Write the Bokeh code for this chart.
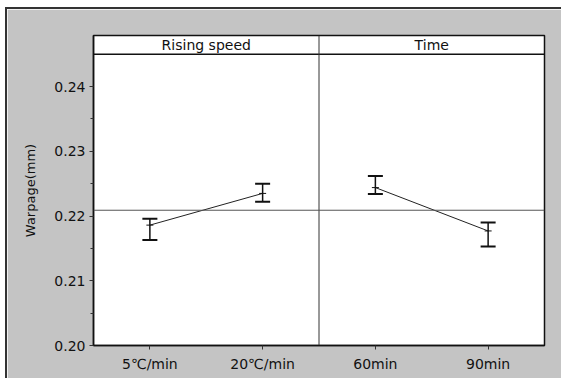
from bokeh.plotting import figure
from bokeh.models import ColumnDataSource, Whisker, Span, FixedTicker, Range1d, CustomJSTickFormatter
from bokeh.embed import file_html
from bokeh.resources import INLINE
from bokeh.core.properties import value

factors = ["Rising speed", "Time"]
levels = ["5℃/min", "20℃/min", "60min", "90min"]
level_factor = ["Rising speed", "Rising speed", "Time", "Time"]
means = [0.2186, 0.2235, 0.2244, 0.2177]
upper = [0.2196, 0.2250, 0.2262, 0.2190]
lower = [0.2163, 0.2222, 0.2234, 0.2153]
grand_mean = 0.2209
y_ticks = [0.20, 0.21, 0.22, 0.23, 0.24]
y_minor = [0.205, 0.215, 0.225, 0.235]

xs = [i + 0.5 for i in range(len(levels))]
FONT = "DejaVu Sans"
GRAY = "#c4c4c4"
INK = "#111111"

p = figure(width=556, height=371, output_backend="svg", toolbar_location=None,
           x_range=Range1d(0, len(levels)), y_range=Range1d(0.2, 0.2479),
           min_border_left=86, min_border_right=19, min_border_top=26, min_border_bottom=35)
p.styles = {"margin-left": "5px", "margin-top": "7px",
            "border-left": "2px solid #333333", "border-top": "2px solid #333333"}
p.background_fill_color = "white"
p.border_fill_color = GRAY
p.outline_line_color = INK
p.outline_line_width = 1.5
p.grid.visible = False

# axes
p.xaxis.ticker = FixedTicker(ticks=xs)
p.xaxis.major_label_overrides = {x: lab for x, lab in zip(xs, levels)}
p.xaxis.minor_tick_line_color = None
p.yaxis.ticker = FixedTicker(ticks=y_ticks, minor_ticks=y_minor)
p.yaxis.formatter = CustomJSTickFormatter(code="return tick.toFixed(2);")
for ax in (p.xaxis[0], p.yaxis[0]):
    ax.axis_line_color = INK
    ax.axis_line_width = 1.5
    ax.major_tick_line_color = "#333333"
    ax.major_tick_in = 0
    ax.major_tick_out = 4
    ax.major_label_text_font = FONT
    ax.major_label_text_color = INK
    ax.major_label_standoff = 4
p.xaxis.major_label_text_font_size = "14px"
p.yaxis.major_label_text_font_size = "14px"
p.yaxis.minor_tick_in = 0
p.yaxis.minor_tick_out = 3
p.yaxis.minor_tick_line_color = "#333333"
p.xaxis.major_label_standoff = 6
p.yaxis.axis_label = "Warpage(mm)"
p.yaxis.axis_label_text_font = FONT
p.yaxis.axis_label_text_font_size = "13px"
p.yaxis.axis_label_text_font_style = "normal"
p.yaxis.axis_label_text_color = INK
p.yaxis.axis_label_standoff = 13

# header row and panel divider
p.add_layout(Span(location=0.245, dimension="width", line_color=INK, line_width=1.5))
p.add_layout(Span(location=2, dimension="height", line_color="#333333", line_width=1))
p.add_layout(Span(location=grand_mean, dimension="width", line_color="#555555", line_width=1))

p.text(x=[1, 3], y=[0.24645, 0.24645], text=factors, text_font=value(FONT),
       text_font_size="14px", text_align="center", text_baseline="middle", text_color=INK)

# connecting lines within each factor
for f in factors:
    idx = [i for i, lf in enumerate(level_factor) if lf == f]
    p.line([xs[i] for i in idx], [means[i] for i in idx], line_color="#222222", line_width=1)

src = ColumnDataSource(dict(x=xs, m=means, lo=lower, hi=upper))
w = Whisker(base="x", lower="lo", upper="hi", source=src, dimension="height",
            line_color=INK, line_width=1.5)
w.upper_head.size = 15
w.lower_head.size = 15
w.upper_head.line_width = 2
w.lower_head.line_width = 2
w.upper_head.line_color = INK
w.lower_head.line_color = INK
p.add_layout(w)
p.scatter("x", "m", source=src, marker="dash", size=7, line_color=INK, line_width=1)

open("out.html", "w").write(file_html(p, INLINE))
